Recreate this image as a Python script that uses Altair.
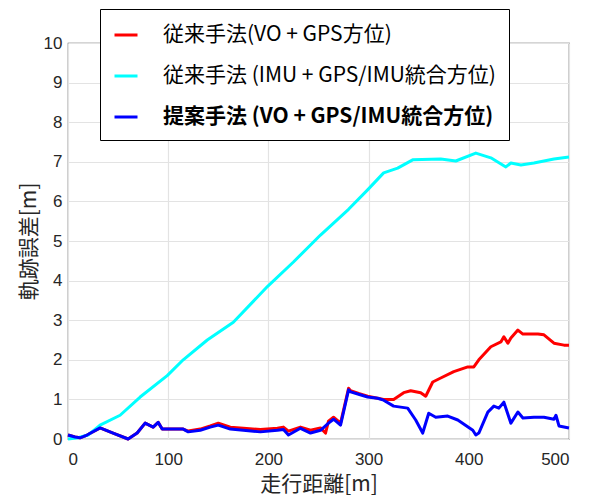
import altair as alt
import pandas as pd

# --- data ---
LABEL_RED = "従来手法(VO + GPS方位)"
LABEL_CYAN = "従来手法 (IMU + GPS/IMU統合方位)"
LABEL_BLUE = "提案手法 (VO + GPS/IMU統合方位)"

red_x = [0, 7, 12, 19, 32, 45, 60, 69, 77, 85, 90, 94, 115, 120, 132, 142, 150, 162, 175, 192,
         209, 215, 220, 232, 242, 252, 257, 260, 265, 272, 280, 282, 290, 299, 309, 315, 325, 335,
         342, 352, 357, 364, 372, 385, 399, 405, 410, 422, 432, 435, 439, 442, 449, 454, 469, 475,
         485, 495, 500]
red_y = [0.1, 0.05, 0.03, 0.1, 0.28, 0.15, 0.0, 0.15, 0.4, 0.3, 0.42, 0.25, 0.25, 0.2, 0.25, 0.33,
         0.4, 0.3, 0.27, 0.24, 0.27, 0.3, 0.2, 0.3, 0.22, 0.28, 0.15, 0.45, 0.55, 0.4, 1.28, 1.22,
         1.15, 1.08, 1.03, 1.0, 1.0, 1.17, 1.22, 1.17, 1.08, 1.44, 1.54, 1.7, 1.82, 1.82, 2.0, 2.33,
         2.45, 2.58, 2.42, 2.55, 2.75, 2.65, 2.65, 2.63, 2.42, 2.37, 2.37]

cyan_x = [0, 10, 20, 32, 52, 72, 99, 115, 139, 165, 199, 225, 252, 280, 299, 315, 329, 344, 372,
          387, 407, 422, 437, 442, 452, 465, 485, 500]
cyan_y = [0.0, 0.03, 0.1, 0.35, 0.6, 1.06, 1.6, 2.0, 2.5, 2.95, 3.85, 4.47, 5.15, 5.8, 6.29, 6.72,
          6.84, 7.05, 7.07, 7.02, 7.22, 7.10, 6.87, 6.97, 6.92, 6.97, 7.07, 7.12]

blue_x = [0, 7, 12, 19, 32, 45, 60, 69, 77, 85, 90, 94, 115, 120, 132, 142, 150, 162, 175, 192,
          209, 215, 220, 232, 242, 252, 260, 265, 272, 280, 282, 290, 299, 309, 315, 325, 339, 347,
          354, 360, 367, 379, 389, 404, 407, 410, 419, 425, 430, 435, 442, 449, 454, 465, 475, 485,
          487, 490, 500]
blue_y = [0.1, 0.05, 0.03, 0.1, 0.28, 0.15, 0.0, 0.15, 0.4, 0.3, 0.42, 0.25, 0.25, 0.18, 0.22, 0.3,
          0.35, 0.25, 0.22, 0.18, 0.22, 0.24, 0.1, 0.27, 0.15, 0.22, 0.4, 0.5, 0.35, 1.24, 1.19,
          1.13, 1.06, 1.03, 0.98, 0.83, 0.78, 0.48, 0.15, 0.65, 0.55, 0.58, 0.48, 0.22, 0.1, 0.15,
          0.68, 0.83, 0.78, 0.93, 0.4, 0.68, 0.53, 0.55, 0.55, 0.5, 0.6, 0.33, 0.28]

x_ticks = [0, 100, 200, 300, 400, 500]
y_ticks = [0, 1, 2, 3, 4, 5, 6, 7, 8, 9, 10]

series = [LABEL_RED, LABEL_CYAN, LABEL_BLUE]
colors = ["#ff0000", "#00ffff", "#0000ff"]

frames = []
for name, xs, ys in [(LABEL_RED, red_x, red_y), (LABEL_CYAN, cyan_x, cyan_y), (LABEL_BLUE, blue_x, blue_y)]:
    frames.append(pd.DataFrame({"dist": xs, "err": ys, "series": name, "order": range(len(xs))}))
df = pd.concat(frames, ignore_index=True)

TICK_FONT = "Liberation Sans"
JP_FONT = "Noto Sans CJK JP"

x_enc = alt.X("dist:Q", scale=alt.Scale(domain=[0, 500], nice=False),
              axis=alt.Axis(values=x_ticks, title="走行距離[m]", titleFont=JP_FONT, titleFontSize=21,
                            titleFontWeight="normal", titleColor="#262626", titlePadding=6,
                            labelFont=TICK_FONT, labelFontSize=17, labelColor="#262626",
                            labelPadding=12, ticks=False, domain=False,
                            grid=True, gridColor="#e3e3e3", gridWidth=1.2))
y_enc = alt.Y("err:Q", scale=alt.Scale(domain=[0, 10], nice=False),
              axis=alt.Axis(values=y_ticks, title="軌跡誤差[m]", titleFont=JP_FONT, titleFontSize=21,
                            titleFontWeight="normal", titleColor="#262626", titlePadding=4,
                            labelFont=TICK_FONT, labelFontSize=17, labelColor="#262626",
                            labelPadding=6, ticks=False, domain=False,
                            grid=True, gridColor="#e3e3e3", gridWidth=1.2))

color_enc = alt.Color(
    "series:N",
    scale=alt.Scale(domain=series, range=colors),
    legend=alt.Legend(
        orient="none", legendX=32, legendY=-34, title=None,
        symbolType="stroke", symbolStrokeWidth=3, symbolSize=529,
        labelFont=JP_FONT, labelFontSize=21, labelColor="#000000", labelLimit=600,
        labelOffset=24, rowPadding=18, padding=13,
        strokeColor="#000000", fillColor="#ffffff",
        labelFontWeight=alt.ExprRef("indexof(datum.label, '提案') >= 0 ? 'bold' : 'normal'"),
    ),
)

base = alt.Chart(df)
layers = []
for name in series:
    layers.append(
        base.transform_filter(alt.datum.series == name)
        .mark_line(strokeWidth=3, strokeJoin="round")
        .encode(x=x_enc, y=y_enc, color=color_enc, order="order:Q")
    )

chart = alt.layer(*layers).properties(
    width=501, height=396,
    autosize=alt.AutoSizeParams(type="none"),
    padding={"left": 60, "top": 35, "right": 20, "bottom": 60},
    background="#ffffff",
).configure_view(stroke="#5a5a5a", strokeWidth=1.2)

chart.save("out.html", embed_options={"renderer": "svg", "actions": False})
